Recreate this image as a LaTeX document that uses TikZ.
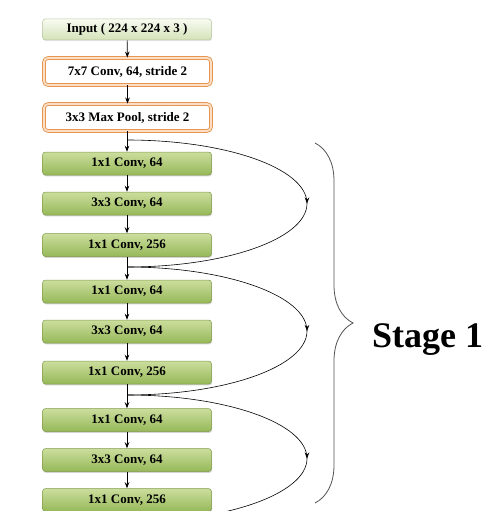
\documentclass[tikz,border=0pt]{standalone}
\usepackage{fontspec}
\setmainfont{Liberation Serif}
\usetikzlibrary{arrows.meta,decorations.markings,decorations.pathreplacing,shadows}
\definecolor{gtop}{RGB}{204,222,158}
\definecolor{gbot}{RGB}{150,184,88}
\definecolor{gline}{RGB}{128,156,74}
\definecolor{itop}{RGB}{248,251,242}
\definecolor{ibot}{RGB}{212,226,184}
\definecolor{iline}{RGB}{184,198,160}
\definecolor{orline}{RGB}{228,150,82}
\definecolor{orband}{RGB}{251,222,196}
\definecolor{bracegray}{RGB}{80,80,80}
\begin{document}
\begin{tikzpicture}[x=1pt,y=-1pt,
  txt/.style={font=\fontsize{13}{15}\selectfont\bfseries, text=black},
  greenbox/.style={txt, rounded corners=3pt, minimum width=169pt, minimum height=23pt, inner sep=0pt,
    draw=gline, line width=0.5pt, top color=gtop, bottom color=gbot,
    drop shadow={shadow xshift=0.6pt, shadow yshift=-1.4pt, opacity=0.35}},
  inputbox/.style={txt, rounded corners=3pt, minimum width=169pt, minimum height=21pt, inner sep=0pt,
    draw=iline, line width=0.5pt, top color=itop, bottom color=ibot,
    drop shadow={shadow xshift=0.6pt, shadow yshift=-1.2pt, opacity=0.2}},
  orangebox/.style={txt, rounded corners=4pt, minimum width=167pt, minimum height=27pt, inner sep=0pt,
    draw=orline, double=orband, double distance=1.8pt, line width=0.9pt, fill=white},
  flow/.style={-{Stealth[length=6pt,width=4.5pt]}, line width=0.7pt},
  skipline/.style={line width=0.6pt, postaction={decorate},
    decoration={markings, mark=at position 0.5 with {\arrow{Stealth[length=6pt,width=4.5pt]}}}},
  bracestyle/.style={draw=bracegray, line width=0.8pt, decorate,
    decoration={brace, amplitude=38pt}}
]
\useasboundingbox (0,0) rectangle (483,511);

\node[inputbox]  (in)   at (127,29.5) {Input ( 224 x 224 x 3 )};
\node[orangebox] (conv) at (127.5,71.5) {7x7 Conv, 64, stride 2};
\node[orangebox] (pool) at (127.5,117.5) {3x3 Max Pool, stride 2};

\node[greenbox] (g1) at (127,163.5) {1x1 Conv, 64};
\node[greenbox] (g2) at (127,203.5) {3x3 Conv, 64};
\node[greenbox] (g3) at (127,245) {1x1 Conv, 256};
\node[greenbox] (g4) at (127,291.5) {1x1 Conv, 64};
\node[greenbox] (g5) at (127,331.5) {3x3 Conv, 64};
\node[greenbox] (g6) at (127,372.5) {1x1 Conv, 256};
\node[greenbox] (g7) at (127,420) {1x1 Conv, 64};
\node[greenbox] (g8) at (127,460) {3x3 Conv, 64};
\node[greenbox] (g9) at (127,500) {1x1 Conv, 256};

\draw[flow] (in) -- (conv);
\draw[flow] (conv) -- (pool);
\draw[flow] (pool.south -| g1.north) -- (g1);
\draw[flow] (g1) -- (g2);
\draw[flow] (g2) -- (g3);
\draw[flow] (g3) -- (g4);
\draw[flow] (g4) -- (g5);
\draw[flow] (g5) -- (g6);
\draw[flow] (g6) -- (g7);
\draw[flow] (g7) -- (g8);
\draw[flow] (g8) -- (g9);

\coordinate (j0) at (127,140);
\coordinate (j1) at (127,267);
\coordinate (j2) at (127,395);
\draw[skipline] (j0) arc[start angle=90, end angle=-90, x radius=180pt, y radius=63.5pt];
\draw[skipline] (j1) arc[start angle=90, end angle=-90, x radius=180pt, y radius=64pt];
\draw[skipline] (j2) arc[start angle=90, end angle=-90, x radius=180pt, y radius=63.5pt];

\coordinate (bt) at (315,143);
\coordinate (bb) at (315,503);
\draw[bracestyle] (bt) -- (bb);
\node[anchor=base west, inner sep=0pt, font=\fontsize{36}{40}\selectfont\bfseries] (stage) at (372,347) {Stage 1};
\end{tikzpicture}
\end{document}
